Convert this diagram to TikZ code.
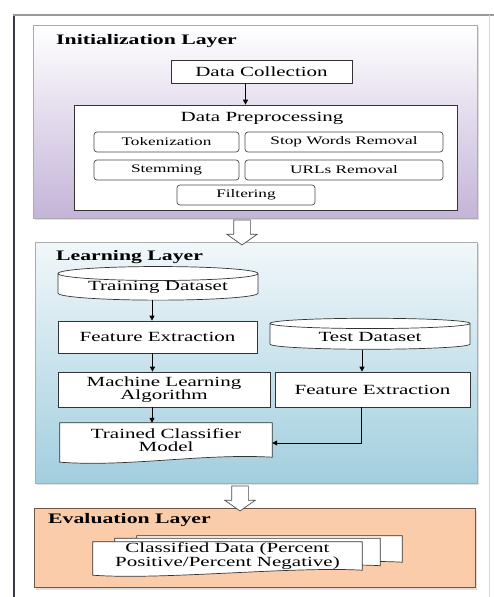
\documentclass[tikz,border=0pt]{standalone}
\usepackage{fontspec}
\setmainfont{Liberation Serif}[FakeStretch=1.5]
\usetikzlibrary{arrows.meta,positioning,calc,shapes.geometric,shapes.arrows,shadows}
\definecolor{initpurple}{RGB}{196,180,216}
\definecolor{learnblue}{RGB}{162,206,222}
\definecolor{evalorange}{RGB}{250,204,170}
\definecolor{evalbrown}{RGB}{112,86,72}
\definecolor{framegray}{RGB}{58,58,70}
\pgfdeclarelayer{back}
\pgfdeclarelayer{mid}
\pgfsetlayers{back,mid,main}

\begin{document}
\begin{tikzpicture}[x=1pt, y=-1pt,
  layer/.style={draw=gray!65, line width=0.8pt, drop shadow={shadow xshift=2pt, shadow yshift=-2pt, opacity=0.25}},
  ltitle/.style={anchor=west, inner sep=0pt, font=\fontsize{14.5}{16}\selectfont\bfseries},
  box/.style={draw=black!80, fill=white, line width=0.7pt, align=center, inner sep=0pt, font=\fontsize{14}{13.5}\selectfont},
  subbox/.style={draw=black!70, fill=white, rounded corners=3pt, line width=0.7pt, minimum height=20pt, inner sep=0pt, font=\fontsize{11.5}{13}\selectfont},
  dbase/.style={cylinder, shape border rotate=90, aspect=0.1, draw=black!80, fill=white, line width=0.7pt, inner sep=0pt, font=\fontsize{14}{13.5}\selectfont},
  doc/.style={align=center, inner sep=0pt, font=\fontsize{14}{13.5}\selectfont},
  docline/.style={draw=black!80, fill=white, line width=0.7pt},
  arr/.style={-{Triangle[length=5pt,width=5pt]}, line width=0.8pt},
  hollow/.style={single arrow, draw=black!70, fill=white, line width=0.7pt, rotate=-90, inner xsep=0pt, inner ysep=8pt, minimum height=25pt, single arrow head extend=7pt, single arrow tip angle=110}]
\useasboundingbox (0,0) rectangle (494,597);

% frame
\draw[framegray, line width=1.8pt] (14,597) -- (14,14);
\draw[gray!80, line width=1.2pt] (13,15) -- (494,15);
\draw[gray!30, line width=0.8pt] (489,15) -- (489,597);

% layers
\begin{pgfonlayer}{back}
\node[layer, top color=white, bottom color=initpurple, minimum width=444pt, minimum height=193pt] (init) at (255,121.5) {};
\node[layer, top color=white!85!learnblue, bottom color=learnblue, minimum width=442pt, minimum height=241pt] (learn) at (256,362.5) {};
\node[layer, draw=evalbrown, fill=evalorange, minimum width=441pt, minimum height=79pt] (eval) at (254.5,548) {};
\end{pgfonlayer}
\node[ltitle] (initt) at (56,41) {Initialization Layer};
\node[ltitle] (learnt) at (56,257) {Learning Layer};
\node[ltitle] (evalt) at (48,520) {Evaluation Layer};

% initialization layer
\node[box, minimum width=181pt, minimum height=23pt] (dc) at (261.5,71.5) {Data Collection};
\node[box, minimum width=383pt, minimum height=105pt] (dp) at (265.5,157.5) {};
\node[doc] (dpt) at (262,118) {Data Preprocessing};
\node[subbox, minimum width=145pt] (tok) at (166.5,142) {Tokenization};
\node[subbox, minimum width=198pt] (stop) at (344,142) {Stop Words Removal};
\node[subbox, minimum width=145pt] (stem) at (166.5,170) {Stemming};
\node[subbox, minimum width=198pt] (url) at (344,170) {URLs Removal};
\node[subbox, minimum width=138pt] (filt) at (246,195) {Filtering};
\draw[arr] ([xshift=-16pt]dc.south) -- ([xshift=-16pt]dc.south |- dp.north);

\node[hollow] (a1) at (242,229.5) {};

% learning layer
\node[dbase, minimum width=200pt, minimum height=30pt] (train) at (158,287) {Training Dataset};
\node[box, minimum width=199pt, minimum height=32pt] (fe1) at (157.5,337) {Feature Extraction};
\node[dbase, minimum width=200pt, minimum height=31pt] (test) at (370,336.5) {Test Dataset};
\node[box, minimum width=212pt, minimum height=35pt] (ml) at (164,389.5) {Machine Learning\\Algorithm};
\node[box, minimum width=195pt, minimum height=35pt] (fe2) at (372.5,389.5) {Feature Extraction};
\node[doc, minimum width=212pt, minimum height=34pt] (tc) at (166,440) {Trained Classifier\\Model};
\draw[arr] ([xshift=-6pt]train.south) -- ([xshift=-6pt]train.south |- fe1.north);
\draw[arr] ([xshift=-5pt]fe1.south) -- ([xshift=-5pt]fe1.south |- ml.north);
\draw[arr] ([xshift=-12pt]ml.south) -- ([xshift=-12pt]ml.south |- tc.north);
\draw[arr] ([xshift=-8pt]test.south) -- ([xshift=-8pt]test.south |- fe2.north);
\draw[arr] ([xshift=-11pt]fe2.south) |- ([yshift=-3pt]tc.east);

\node[hollow] (a2) at (240,495.5) {};

% evaluation layer
\node[doc, minimum width=265pt, minimum height=26pt] (cd3) at (269.5,549) {};
\node[doc, minimum width=265pt, minimum height=27pt] (cd2) at (247.5,552) {};
\node[doc, minimum width=269pt, minimum height=28pt] (cd) at (227.5,556) {Classified Data (Percent\\Positive/Percent Negative)};

\begin{pgfonlayer}{mid}
\foreach \n in {tc,cd3,cd2,cd}
  \draw[docline] (\n.north west) -- ([yshift=-5pt]\n.south west) .. controls ([xshift=70pt,yshift=-10pt]\n.south west) and ([xshift=-70pt,yshift=4pt]\n.south east) .. (\n.south east) -- (\n.north east) -- cycle;
\end{pgfonlayer}
\end{tikzpicture}
\end{document}
